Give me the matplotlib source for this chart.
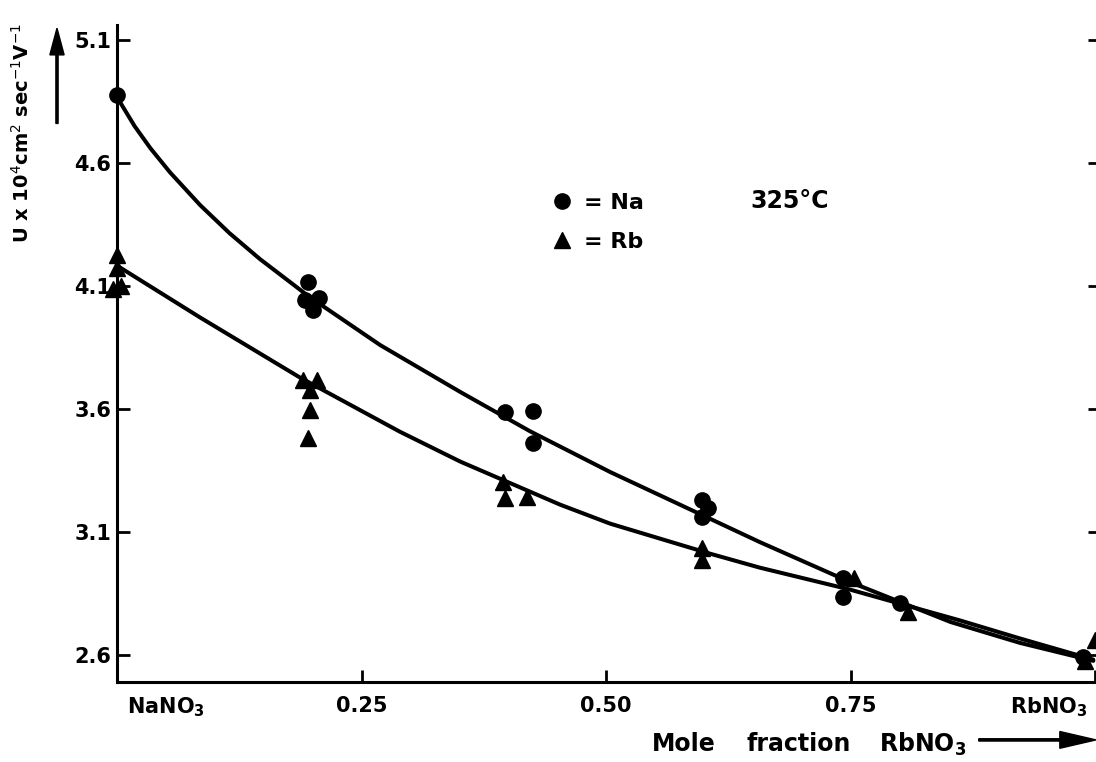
import numpy as np
import matplotlib
matplotlib.use("Agg")
import matplotlib.pyplot as plt
from matplotlib import transforms

# measured points, Na (circles) and Rb (triangles)
x_na = [0.0, 0.195, 0.192, 0.206, 0.200, 0.397, 0.425, 0.425,
        0.598, 0.604, 0.598, 0.742, 0.742, 0.800, 0.987]
y_na = [4.876, 4.116, 4.043, 4.051, 4.002, 3.588, 3.592, 3.462,
        3.230, 3.198, 3.161, 2.913, 2.836, 2.811, 2.590]

x_rb = [0.0, 0.0, 0.004, -0.004, 0.190, 0.204, 0.197, 0.197, 0.195,
        0.395, 0.397, 0.419, 0.598, 0.598, 0.753, 0.809, 0.990, 1.000]
y_rb = [4.226, 4.175, 4.100, 4.090, 3.718, 3.718, 3.677, 3.596, 3.482,
        3.303, 3.238, 3.242, 3.035, 2.986, 2.913, 2.775, 2.575, 2.660]

# hand drawn smooth curves
curve_na_x = [0.0, 0.018, 0.034, 0.054, 0.085, 0.115, 0.146, 0.197, 0.269,
              0.351, 0.422, 0.504, 0.576, 0.657, 0.749, 0.852, 0.923, 0.998]
curve_na_y = [4.868, 4.750, 4.661, 4.563, 4.429, 4.315, 4.210, 4.055, 3.860,
              3.669, 3.510, 3.344, 3.210, 3.059, 2.897, 2.734, 2.649, 2.576]
curve_rb_x = [0.0, 0.085, 0.187, 0.289, 0.351, 0.453, 0.504, 0.606, 0.657,
              0.749, 0.800, 0.862, 0.923, 0.998]
curve_rb_y = [4.183, 3.972, 3.728, 3.508, 3.386, 3.211, 3.134, 3.012, 2.955,
              2.866, 2.809, 2.740, 2.667, 2.581]

yticks = [2.6, 3.1, 3.6, 4.1, 4.6, 5.1]
yticklabels = ['2.6', '3.1', '3.6', '4.1', '4.6', '5.1']
xticks = [0.0, 0.25, 0.50, 0.75, 1.0]
xticklabels = [r'$\mathbf{NaNO_3}$', '0.25', '0.50', '0.75', r'$\mathbf{RbNO_3}$']

fig = plt.figure(figsize=(10.96, 7.62), dpi=100)
ax = fig.add_axes([0.1068, 0.105, 0.897, 0.862])

ax.plot(curve_na_x, curve_na_y, color='black', lw=2.9, solid_capstyle='round')
ax.plot(curve_rb_x, curve_rb_y, color='black', lw=2.9, solid_capstyle='round')
ax.plot(x_na, y_na, 'o', color='black', ms=11, clip_on=False, label='= Na')
ax.plot(x_rb, y_rb, '^', color='black', ms=11, clip_on=False, label='= Rb')

ax.set_xlim(0, 1.005)
ax.set_ylim(2.49, 5.161)

ax.spines['top'].set_visible(False)
ax.spines['right'].set_visible(False)
ax.spines['left'].set_linewidth(2.2)
ax.spines['bottom'].set_linewidth(2.2)

ax.set_yticks(yticks)
ax.set_yticklabels(yticklabels)
ax.set_xticks(xticks)
ax.set_xticklabels(xticklabels)
ax.tick_params(axis='both', direction='in', length=9, width=2, labelsize=15)
ax.tick_params(axis='y', right=True, pad=4)
ax.tick_params(axis='x', pad=10)
for lab in ax.get_xticklabels() + ax.get_yticklabels():
    lab.set_fontweight('bold')
xl = ax.get_xticklabels()
xl[0].set_horizontalalignment('left')
xl[0].set_transform(xl[0].get_transform() +
                    transforms.ScaledTranslation(0.1, 0, fig.dpi_scale_trans))
xl[-1].set_horizontalalignment('right')
xl[-1].set_transform(xl[-1].get_transform() +
                     transforms.ScaledTranslation(-0.08, 0, fig.dpi_scale_trans))

ax.legend(loc='upper left', bbox_to_anchor=(0.4435, 0.745), frameon=False,
          borderpad=0, borderaxespad=0, handlelength=0.8, handletextpad=0.6,
          labelspacing=0.85, prop={'size': 16, 'weight': 'bold'})

ax.text(0.644, 0.732, '325°C', transform=ax.transAxes, fontsize=17,
        fontweight='bold', ha='left', va='center')

# axis titles with arrows, as in the original
for word, xpos in [('Mole', 0.595), ('fraction', 0.681), (r'$\mathbf{RbNO_3}$', 0.802)]:
    fig.text(xpos, 0.014, word, fontsize=17, fontweight='bold',
             ha='left', va='baseline')
fig.patches.append(matplotlib.patches.FancyArrow(
    0.893, 0.029, 0.107, 0.0, width=0.003, head_width=0.022, head_length=0.033,
    color='black', transform=fig.transFigure, length_includes_head=True))

fig.text(0.02, 0.825, r'U x 10$^{4}$cm$^{2}$ sec$^{-1}$V$^{-1}$', fontsize=14,
         fontweight='bold', rotation=90, ha='center', va='center')
fig.patches.append(matplotlib.patches.FancyArrow(
    0.052, 0.838, 0.0, 0.125, width=0.002, head_width=0.013, head_length=0.035,
    color='black', transform=fig.transFigure, length_includes_head=True))

fig.savefig('out.png', dpi=100)
